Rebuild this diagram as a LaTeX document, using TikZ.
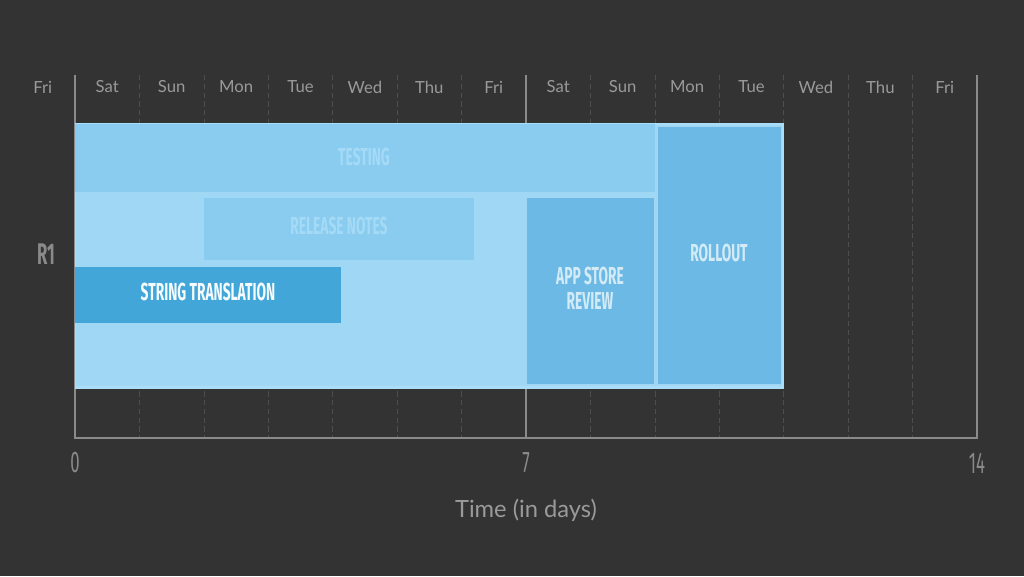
\documentclass[tikz,border=0pt]{standalone}
\usepackage{fontspec}
\setmainfont{Lato}
\newfontfamily\condfont[FakeStretch=0.56]{Fira Sans}
\usetikzlibrary{calc}

\definecolor{bg}{HTML}{333333}
\definecolor{daygray}{HTML}{9A9A9A}
\definecolor{axisgray}{HTML}{8A8A8A}
\definecolor{gridgray}{HTML}{4E4E4E}
\definecolor{baseblue}{HTML}{9FD7F4}
\definecolor{edgeblue}{HTML}{AADEF8}
\definecolor{testblue}{HTML}{8ACCF0}
\definecolor{stringblue}{HTML}{42A6D9}
\definecolor{storeblue}{HTML}{6BB9E4}

\tikzset{
	dayname/.style={text=daygray, font=\fontsize{9.5}{11}\selectfont},
	tick/.style={text=axisgray, font=\condfont\fontsize{17}{19}\selectfont},
	barlabel/.style={font=\condfont\bfseries\fontsize{14}{15}\selectfont, align=center},
	gridline/.style={gridgray, dashed, dash pattern=on 3pt off 2pt, line width=0.4pt},
	axisline/.style={axisgray, line width=1pt}
}

\begin{document}
\begin{tikzpicture}[x=0.02cm, y=-0.02cm]
	
	\fill[bg] (0,0) rectangle (1024,576);
	\useasboundingbox (0,0) rectangle (1024,576);
	
	% grid
	\foreach \d in {1,2,3,4,5,6,8,9,10,11,12,13}
		\draw[gridline] ({75+64.43*\d},75) -- ({75+64.43*\d},438);
	\draw[axisline] (526,75) -- (526,438);
	\draw[axisline] (75,75) -- (75,438) -- (977,438) -- (977,75);
	
	\foreach \n [count=\i from 0] in {Fri,Sat,Sun,Mon,Tue,Wed,Thu,Fri,Sat,Sun,Mon,Tue,Wed,Thu,Fri}
		\node[dayname] (day\i) at ({75+64.43*(\i-0.5)},87) {\n};
	
	% bars
	\fill[edgeblue] (75,123) rectangle (784,389);
	\fill[baseblue] (76,125) rectangle (782,386);
	\fill[testblue] (75,124) rectangle (655,192);
	\fill[testblue] (204,198) rectangle (474,260);
	\fill[stringblue] (75,267) rectangle (341,323);
	\fill[storeblue] (527,198) rectangle (654,384);
	\fill[storeblue] (658,127) rectangle (781,384);
	
	\node[barlabel, text=edgeblue!80!testblue] (testing) at (364,157) {TESTING};
	\node[barlabel, text=edgeblue!80!testblue] (notes) at (339,226) {RELEASE NOTES};
	\node[barlabel, text=white!95!stringblue] (strings) at (208,292) {STRING TRANSLATION};
	\node[barlabel, text=white!70!storeblue] (review) at (590,288) {APP STORE\\[-1pt]REVIEW};
	\node[barlabel, text=white!70!storeblue] (rollout) at (719,253) {ROLLOUT};
	
	\node[tick, font=\condfont\bfseries\fontsize{17}{19}\selectfont] (r1) at (46,254) {R1};
	
	\node[tick] (t0) at (75,463) {0};
	\node[tick] (t7) at (526,463) {7};
	\node[tick] (t14) at (977,463) {14};
	
	\node[text=daygray, font=\fontsize{13.5}{15}\selectfont] (time) at (526,510) {Time (in days)};
	
\end{tikzpicture}
\end{document}
